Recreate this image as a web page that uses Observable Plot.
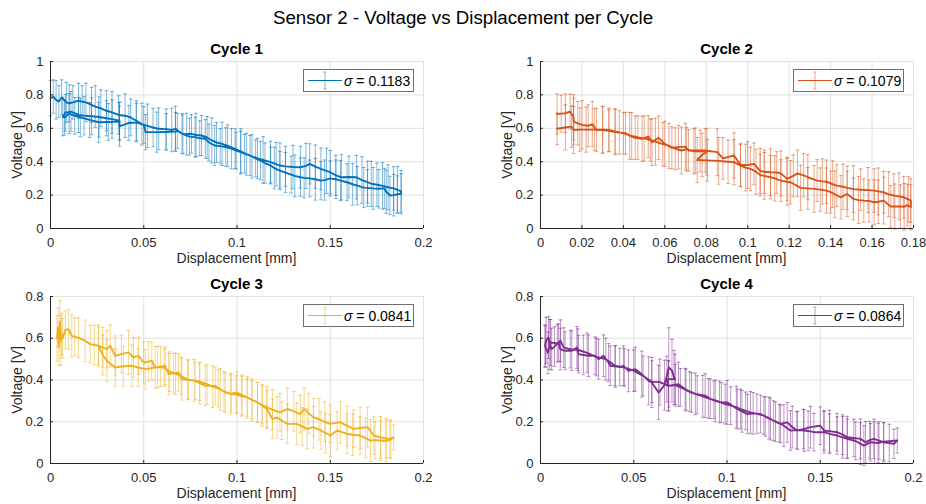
<!DOCTYPE html>
<html><head><meta charset="utf-8">
<script src="https://cdn.jsdelivr.net/npm/d3@7"></script>
<script src="https://cdn.jsdelivr.net/npm/@observablehq/plot@0.6"></script>
<style>
body{margin:0;background:#fff;}
#root{position:relative;width:926px;height:504px;font-family:"Liberation Sans",Arial,Helvetica,sans-serif;color:#262626;overflow:hidden;}
.abs{position:absolute;}
.maintitle{left:0;width:926px;top:8px;line-height:20px;text-align:center;font-size:18.7px;color:#000;}
.ptitle{font-weight:bold;font-size:15px;line-height:18px;height:18px;color:#000;text-align:center;width:200px;}
.xlabel{font-size:14px;line-height:18px;height:18px;text-align:center;width:200px;}
.ylabel{font-size:14px;line-height:18px;height:18px;width:120px;text-align:center;transform:rotate(-90deg);transform-origin:center;white-space:nowrap;}
.legend{background:#fff;border:1px solid #6e6e6e;box-sizing:border-box;display:flex;align-items:center;font-size:14px;color:#000;}
.legend svg{margin-left:3px;margin-right:1px;}
</style></head>
<body><div id="root"></div>
<script>
const mainTitle = "Sensor 2 - Voltage vs Displacement per Cycle";
const panelTitles = ["Cycle 1", "Cycle 2", "Cycle 3", "Cycle 4"];
const sigmaLabels = ["0.1183", "0.1079", "0.0841", "0.0864"];
const seriesColors = ["#0072BD", "#D95319", "#EDB120", "#7E2F8E"];
const xLabel = "Displacement [mm]";
const yLabel = "Voltage [V]";
const xTicks20 = [0, 0.05, 0.1, 0.15, 0.2];
const xTicks18 = [0, 0.02, 0.04, 0.06, 0.08, 0.1, 0.12, 0.14, 0.16, 0.18];
const yTicks10 = [0, 0.2, 0.4, 0.6, 0.8, 1];
const yTicks08 = [0, 0.2, 0.4, 0.6, 0.8];

// [displacement, voltage, error half-width]
const cycle1 = [
[0,0.78,0.105],[0.0015,0.79,0.10],[0.003,0.77,0.115],[0.0045,0.76,0.095],[0.006,0.785,0.105],[0.0085,0.755,0.12],[0.01,0.75,0.11],[0.012,0.755,0.10],[0.015,0.765,0.105],[0.017,0.76,0.095],[0.019,0.755,0.115],[0.022,0.74,0.105],[0.024,0.73,0.125],[0.027,0.72,0.11],[0.03,0.705,0.12],[0.033,0.695,0.125],[0.0365,0.68,0.115],[0.04,0.675,0.13],[0.043,0.665,0.11],[0.046,0.645,0.12],[0.049,0.625,0.125],[0.052,0.615,0.13],[0.055,0.605,0.115],[0.058,0.597,0.125],[0.062,0.595,0.12],[0.065,0.59,0.13],[0.067,0.597,0.135],[0.0705,0.567,0.12],[0.073,0.565,0.125],[0.0756,0.567,0.115],[0.078,0.56,0.13],[0.081,0.557,0.12],[0.084,0.545,0.125],[0.0865,0.527,0.135],[0.089,0.515,0.12],[0.092,0.507,0.13],[0.095,0.495,0.125],[0.099,0.477,0.12],[0.102,0.462,0.135],[0.105,0.445,0.125],[0.108,0.432,0.13],[0.111,0.42,0.12],[0.114,0.41,0.14],[0.118,0.397,0.125],[0.121,0.385,0.13],[0.123,0.377,0.135],[0.126,0.372,0.12],[0.13,0.368,0.13],[0.134,0.367,0.125],[0.137,0.375,0.135],[0.139,0.387,0.12],[0.142,0.37,0.13],[0.145,0.357,0.125],[0.148,0.345,0.135],[0.15,0.337,0.13],[0.153,0.318,0.12],[0.156,0.307,0.135],[0.16,0.308,0.125],[0.164,0.307,0.13],[0.167,0.29,0.14],[0.17,0.278,0.125],[0.172,0.268,0.135],[0.175,0.262,0.13],[0.178,0.255,0.14],[0.181,0.247,0.135],[0.184,0.24,0.13],[0.186,0.232,0.14],[0.188,0.222,0.125],
[0.188,0.208,0.12],[0.186,0.205,0.11],[0.184,0.2,0.125],[0.182,0.198,0.115],[0.18,0.22,0.13],[0.179,0.24,0.12],[0.176,0.238,0.115],[0.173,0.24,0.125],[0.17,0.243,0.11],[0.168,0.245,0.12],[0.1645,0.257,0.115],[0.162,0.265,0.125],[0.159,0.277,0.11],[0.1555,0.287,0.12],[0.153,0.295,0.115],[0.15,0.3,0.105],[0.147,0.29,0.12],[0.145,0.287,0.115],[0.142,0.295,0.125],[0.139,0.3,0.11],[0.136,0.303,0.12],[0.134,0.307,0.115],[0.131,0.315,0.125],[0.129,0.323,0.11],[0.126,0.335,0.12],[0.123,0.347,0.115],[0.12,0.362,0.125],[0.118,0.377,0.11],[0.115,0.392,0.12],[0.1126,0.407,0.115],[0.11,0.42,0.11],[0.107,0.437,0.12],[0.104,0.448,0.115],[0.102,0.457,0.125],[0.0995,0.467,0.11],[0.097,0.478,0.12],[0.094,0.488,0.115],[0.091,0.493,0.105],[0.088,0.497,0.12],[0.085,0.515,0.11],[0.083,0.537,0.115],[0.08,0.54,0.105],[0.0775,0.547,0.12],[0.0745,0.55,0.11],[0.071,0.565,0.115],[0.068,0.585,0.105],[0.067,0.58,0.115],[0.062,0.578,0.11],[0.057,0.577,0.12],[0.051,0.577,0.105],[0.05,0.62,0.11],[0.046,0.635,0.115],[0.042,0.632,0.105],[0.037,0.612,0.12],[0.037,0.645,0.11],[0.033,0.655,0.115],[0.03,0.66,0.105],[0.026,0.668,0.12],[0.022,0.672,0.11],[0.018,0.676,0.115],[0.015,0.68,0.105],[0.011,0.7,0.12],[0.008,0.693,0.11],[0.0066,0.67,0.115],[0.0075,0.665,0.105],[0.01,0.688,0.12],[0.013,0.675,0.11],[0.016,0.665,0.115],[0.021,0.65,0.105],[0.0258,0.636,0.12],[0.031,0.638,0.11],[0.037,0.64,0.115]
];

const cycle2 = [
[0.008,0.685,0.12],[0.01,0.688,0.11],[0.012,0.69,0.115],[0.0143,0.7,0.105],[0.0159,0.666,0.135],[0.016,0.64,0.14],[0.018,0.63,0.13],[0.02,0.62,0.145],[0.023,0.615,0.125],[0.025,0.625,0.135],[0.027,0.59,0.13],[0.03,0.59,0.14],[0.033,0.585,0.125],[0.036,0.577,0.135],[0.038,0.575,0.13],[0.041,0.571,0.125],[0.043,0.555,0.14],[0.0457,0.543,0.13],[0.049,0.537,0.135],[0.052,0.55,0.125],[0.0538,0.517,0.14],[0.057,0.543,0.13],[0.06,0.507,0.135],[0.0634,0.483,0.125],[0.0666,0.487,0.13],[0.0699,0.49,0.14],[0.0714,0.467,0.125],[0.0747,0.467,0.135],[0.0795,0.467,0.13],[0.0853,0.457,0.14],[0.088,0.42,0.125],[0.0934,0.437,0.135],[0.0965,0.38,0.13],[0.1,0.38,0.14],[0.103,0.387,0.125],[0.106,0.345,0.135],[0.108,0.34,0.13],[0.111,0.337,0.14],[0.114,0.335,0.125],[0.116,0.33,0.135],[0.119,0.297,0.13],[0.122,0.315,0.125],[0.124,0.33,0.14],[0.127,0.318,0.13],[0.129,0.307,0.135],[0.1335,0.287,0.125],[0.136,0.282,0.135],[0.138,0.28,0.13],[0.141,0.265,0.14],[0.143,0.257,0.125],[0.146,0.25,0.135],[0.148,0.243,0.13],[0.151,0.236,0.14],[0.1545,0.232,0.125],[0.158,0.23,0.135],[0.161,0.227,0.13],[0.163,0.222,0.14],[0.1656,0.217,0.125],[0.168,0.205,0.135],[0.1705,0.197,0.13],[0.173,0.192,0.14],[0.1753,0.187,0.125],[0.1775,0.175,0.135],[0.1787,0.167,0.13],
[0.1787,0.127,0.135],[0.177,0.14,0.125],[0.1755,0.13,0.14],[0.1737,0.132,0.13],[0.171,0.132,0.135],[0.169,0.132,0.125],[0.1656,0.167,0.14],[0.163,0.16,0.13],[0.161,0.157,0.135],[0.1585,0.165,0.125],[0.156,0.167,0.13],[0.1535,0.17,0.14],[0.151,0.177,0.125],[0.148,0.207,0.135],[0.145,0.187,0.13],[0.142,0.205,0.14],[0.14,0.218,0.125],[0.138,0.227,0.135],[0.135,0.233,0.13],[0.132,0.237,0.14],[0.129,0.24,0.125],[0.1255,0.243,0.135],[0.1207,0.277,0.13],[0.119,0.28,0.14],[0.116,0.287,0.125],[0.113,0.3,0.135],[0.111,0.307,0.13],[0.108,0.315,0.14],[0.106,0.32,0.125],[0.104,0.34,0.135],[0.1013,0.357,0.13],[0.099,0.365,0.14],[0.0965,0.377,0.125],[0.0934,0.397,0.135],[0.0905,0.4,0.13],[0.086,0.405,0.14],[0.0805,0.408,0.125],[0.0756,0.41,0.135],[0.078,0.44,0.13],[0.0803,0.46,0.14],[0.077,0.463,0.125],[0.074,0.462,0.135],[0.0705,0.475,0.13],[0.068,0.467,0.14],[0.065,0.478,0.125],[0.062,0.495,0.135],[0.059,0.505,0.13],[0.0555,0.52,0.14],[0.053,0.53,0.125],[0.05,0.54,0.135],[0.047,0.545,0.13],[0.044,0.555,0.14],[0.04,0.57,0.125],[0.036,0.582,0.135],[0.033,0.59,0.13],[0.03,0.592,0.14],[0.026,0.592,0.125],[0.022,0.592,0.135],[0.019,0.592,0.13],[0.016,0.59,0.14],[0.015,0.61,0.125],[0.012,0.605,0.135],[0.008,0.597,0.095]
];

const cycle3 = [
[0.0035,0.6,0.11],[0.004,0.65,0.095],[0.0045,0.56,0.09],[0.005,0.68,0.1],[0.0055,0.59,0.12],[0.006,0.62,0.1],[0.0065,0.6,0.095],[0.008,0.64,0.09],[0.0097,0.643,0.095],[0.0114,0.611,0.1],[0.013,0.608,0.09],[0.015,0.603,0.095],[0.0186,0.587,0.1],[0.0213,0.572,0.09],[0.0235,0.568,0.095],[0.0257,0.564,0.1],[0.028,0.556,0.095],[0.0302,0.548,0.09],[0.032,0.564,0.1],[0.0347,0.516,0.095],[0.038,0.524,0.09],[0.0418,0.532,0.105],[0.0445,0.508,0.095],[0.0472,0.516,0.09],[0.0499,0.484,0.1],[0.0525,0.488,0.095],[0.0543,0.492,0.09],[0.0561,0.46,0.1],[0.059,0.464,0.095],[0.0615,0.468,0.09],[0.0633,0.428,0.1],[0.066,0.432,0.095],[0.0686,0.436,0.09],[0.0704,0.404,0.1],[0.074,0.4,0.095],[0.0776,0.396,0.09],[0.08,0.385,0.1],[0.083,0.372,0.095],[0.0883,0.372,0.09],[0.091,0.355,0.1],[0.0937,0.34,0.095],[0.097,0.335,0.09],[0.1,0.34,0.1],[0.1027,0.328,0.095],[0.1055,0.317,0.09],[0.108,0.305,0.1],[0.111,0.293,0.095],[0.1135,0.28,0.09],[0.116,0.269,0.1],[0.119,0.258,0.095],[0.123,0.245,0.09],[0.127,0.261,0.1],[0.1305,0.25,0.095],[0.134,0.237,0.09],[0.136,0.261,0.1],[0.1385,0.24,0.095],[0.141,0.221,0.09],[0.144,0.212,0.1],[0.147,0.2,0.095],[0.15,0.19,0.09],[0.1555,0.197,0.1],[0.159,0.18,0.095],[0.1626,0.166,0.09],[0.166,0.17,0.1],[0.17,0.174,0.095],[0.1734,0.134,0.09],[0.177,0.125,0.1],[0.18,0.12,0.095],[0.182,0.118,0.09],[0.184,0.125,0.06],
[0.1825,0.115,0.09],[0.18,0.108,0.1],[0.177,0.11,0.095],[0.174,0.112,0.09],[0.1716,0.11,0.1],[0.169,0.122,0.095],[0.166,0.134,0.09],[0.162,0.138,0.1],[0.159,0.142,0.095],[0.1537,0.158,0.09],[0.15,0.134,0.1],[0.1475,0.146,0.095],[0.145,0.158,0.09],[0.141,0.174,0.1],[0.1376,0.166,0.095],[0.135,0.178,0.09],[0.132,0.19,0.1],[0.127,0.19,0.095],[0.124,0.205,0.09],[0.1215,0.221,0.1],[0.119,0.213,0.095],[0.116,0.261,0.09],[0.1135,0.278,0.1],[0.111,0.293,0.095],[0.108,0.305,0.09],[0.1055,0.317,0.1],[0.1025,0.322,0.095],[0.0995,0.33,0.09],[0.0965,0.333,0.1],[0.093,0.345,0.095],[0.09,0.36,0.09],[0.087,0.368,0.1],[0.084,0.38,0.095],[0.08,0.392,0.09],[0.077,0.398,0.1],[0.0735,0.402,0.095],[0.07,0.42,0.09],[0.067,0.43,0.1],[0.064,0.44,0.095],[0.061,0.46,0.09],[0.0575,0.462,0.1],[0.0508,0.452,0.095],[0.047,0.46,0.09],[0.0436,0.468,0.1],[0.039,0.466,0.095],[0.0347,0.46,0.09],[0.0302,0.492,0.1],[0.028,0.52,0.095],[0.0257,0.564,0.09]
];

const cycle4 = [
[0.0025,0.564,0.1],[0.003,0.59,0.11],[0.0043,0.603,0.1],[0.005,0.57,0.12],[0.006,0.548,0.1],[0.0075,0.56,0.095],[0.0097,0.58,0.09],[0.0106,0.548,0.1],[0.0132,0.54,0.09],[0.0168,0.54,0.095],[0.0195,0.556,0.1],[0.0204,0.524,0.09],[0.023,0.52,0.095],[0.0257,0.516,0.1],[0.0293,0.516,0.09],[0.0311,0.5,0.095],[0.0338,0.516,0.1],[0.0365,0.484,0.09],[0.0374,0.468,0.095],[0.0401,0.465,0.1],[0.0425,0.462,0.09],[0.0445,0.468,0.095],[0.0472,0.444,0.1],[0.0508,0.452,0.105],[0.0543,0.428,0.11],[0.058,0.396,0.115],[0.0597,0.388,0.12],[0.0633,0.34,0.13],[0.0665,0.375,0.12],[0.0688,0.46,0.19],[0.0705,0.445,0.15],[0.0716,0.412,0.13],[0.0722,0.404,0.12],[0.0677,0.404,0.11],[0.0686,0.372,0.12],[0.074,0.38,0.105],[0.0776,0.356,0.1],[0.08,0.345,0.095],[0.083,0.333,0.1],[0.0883,0.325,0.105],[0.091,0.31,0.095],[0.0937,0.3,0.1],[0.097,0.292,0.095],[0.1001,0.293,0.105],[0.1055,0.261,0.095],[0.108,0.25,0.1],[0.111,0.237,0.095],[0.114,0.24,0.1],[0.118,0.237,0.09],[0.1205,0.225,0.095],[0.1233,0.213,0.1],[0.126,0.2,0.095],[0.1287,0.19,0.09],[0.1323,0.197,0.095],[0.135,0.175,0.1],[0.1377,0.158,0.09],[0.141,0.165,0.095],[0.1448,0.174,0.1],[0.15,0.181,0.09],[0.152,0.158,0.095],[0.155,0.155,0.1],[0.159,0.15,0.09],[0.162,0.138,0.095],[0.1645,0.126,0.1],[0.168,0.122,0.09],[0.1716,0.118,0.095],[0.1743,0.102,0.1],[0.1765,0.112,0.09],[0.1788,0.118,0.095],[0.1815,0.11,0.09],[0.184,0.102,0.095],[0.187,0.098,0.09],[0.1895,0.094,0.07],[0.1913,0.11,0.06],
[0.184,0.105,0.09],[0.181,0.098,0.095],[0.179,0.1,0.1],[0.177,0.102,0.09],[0.1734,0.086,0.095],[0.1715,0.095,0.1],[0.169,0.108,0.09],[0.1645,0.118,0.095],[0.162,0.125,0.1],[0.159,0.134,0.09],[0.155,0.142,0.095],[0.152,0.15,0.1],[0.1466,0.15,0.09],[0.1435,0.156,0.095],[0.1413,0.158,0.1],[0.1375,0.16,0.09],[0.134,0.158,0.095],[0.1305,0.181,0.1],[0.128,0.193,0.09],[0.125,0.205,0.095],[0.1225,0.218,0.1],[0.1198,0.229,0.09],[0.116,0.238,0.095],[0.1126,0.245,0.1],[0.11,0.252,0.09],[0.1073,0.261,0.095],[0.105,0.27,0.1],[0.102,0.277,0.09],[0.099,0.285,0.095],[0.096,0.295,0.1],[0.093,0.305,0.09],[0.09,0.312,0.095],[0.087,0.322,0.1],[0.084,0.33,0.09],[0.081,0.34,0.095],[0.078,0.352,0.1],[0.075,0.365,0.09],[0.0722,0.375,0.1],[0.0686,0.372,0.12],[0.064,0.39,0.11],[0.0597,0.392,0.1],[0.055,0.42,0.095],[0.05,0.445,0.1],[0.045,0.46,0.09],[0.04,0.468,0.095],[0.035,0.5,0.1],[0.03,0.51,0.09],[0.025,0.53,0.095],[0.02,0.545,0.1],[0.016,0.548,0.09],[0.0125,0.555,0.095],[0.0107,0.588,0.1],[0.009,0.575,0.09],[0.0054,0.58,0.11],[0.004,0.53,0.1],[0.0025,0.56,0.1]
];

const root = document.getElementById("root");
function addDiv(cls, text, left, top) {
  const d = document.createElement("div");
  d.className = "abs " + cls;
  d.textContent = text;
  if (left != null) d.style.left = left + "px";
  d.style.top = top + "px";
  root.appendChild(d);
  return d;
}
addDiv("maintitle", mainTitle, null, 8);

const capSymbol = {draw(ctx) { ctx.moveTo(-1.8, 0); ctx.lineTo(1.8, 0); }};
const fmt = d3.format("~g");

const panels = [
  {data: cycle1, xDomain: [0, 0.2], xTicks: xTicks20, yDomain: [0, 1], yTicks: yTicks10, left: 0, top: 40, width: 463, mr: 40},
  {data: cycle2, xDomain: [0, 0.18], xTicks: xTicks18, yDomain: [0, 1], yTicks: yTicks10, left: 490, top: 40, width: 436, mr: 13},
  {data: cycle3, xDomain: [0, 0.2], xTicks: xTicks20, yDomain: [0, 0.8], yTicks: yTicks08, left: 0, top: 275, width: 463, mr: 40},
  {data: cycle4, xDomain: [0, 0.2], xTicks: xTicks20, yDomain: [0, 0.8], yTicks: yTicks08, left: 490, top: 275, width: 436, mr: 13}
];

panels.forEach((p, i) => {
  const color = seriesColors[i];
  const ml = 50, mt = 21, mb = 42, H = 230;
  const chart = Plot.plot({
    width: p.width, height: H,
    marginLeft: ml, marginRight: p.mr, marginTop: mt, marginBottom: mb,
    x: {domain: p.xDomain},
    y: {domain: p.yDomain},
    style: {fontFamily: "'Liberation Sans', Arial, Helvetica, sans-serif", fontSize: "13px", color: "#262626", background: "transparent", overflow: "visible"},
    marks: [
      Plot.gridX(p.xTicks, {stroke: "#e1e1e1", strokeOpacity: 1}),
      Plot.gridY(p.yTicks, {stroke: "#e1e1e1", strokeOpacity: 1}),
      Plot.ruleX(p.data, {x: d => d[0], y1: d => d[1] - d[2], y2: d => d[1] + d[2], stroke: color, strokeOpacity: 0.5, strokeWidth: 1}),
      Plot.dot(p.data, {x: d => d[0], y: d => d[1] - d[2], symbol: capSymbol, r: 2, fill: "none", stroke: color, strokeOpacity: 0.55, strokeWidth: 1}),
      Plot.dot(p.data, {x: d => d[0], y: d => d[1] + d[2], symbol: capSymbol, r: 2, fill: "none", stroke: color, strokeOpacity: 0.55, strokeWidth: 1}),
      Plot.line(p.data, {x: d => d[0], y: d => d[1], stroke: color, strokeWidth: 1.9, strokeLinejoin: "round"}),
      Plot.ruleX([p.xDomain[0]], {stroke: "#262626", strokeWidth: 1}),
      Plot.ruleY([p.yDomain[0]], {stroke: "#262626", strokeWidth: 1}),
      Plot.axisX(p.xTicks, {tickSize: 0, tickPadding: 9, tickFormat: fmt, label: null, fill: "#262626"}),
      Plot.axisX(p.xTicks, {tickSize: -3, fill: "none", label: null, stroke: "#262626"}),
      Plot.axisY(p.yTicks, {tickSize: 0, tickPadding: 7, tickFormat: fmt, label: null, fill: "#262626"}),
      Plot.axisY(p.yTicks, {tickSize: -3, fill: "none", label: null, stroke: "#262626"})
    ]
  });
  chart.style.position = "absolute";
  chart.style.left = p.left + "px";
  chart.style.top = p.top + "px";
  root.appendChild(chart);

  const fx0 = p.left + ml, fx1 = p.left + p.width - p.mr;
  const fy0 = p.top + mt, fy1 = p.top + H - mb;
  const cx = (fx0 + fx1) / 2;
  addDiv("ptitle", panelTitles[i], cx - 100, p.top);
  addDiv("xlabel", xLabel, cx - 100, fy1 + 21);
  addDiv("ylabel", yLabel, p.left + 17 - 60, (fy0 + fy1) / 2 - 9);

  const lg = document.createElement("div");
  lg.className = "abs legend";
  lg.style.left = (fx1 - 120) + "px";
  lg.style.top = (fy0 + 8) + "px";
  lg.style.width = "111px";
  lg.style.height = "23px";
  const ns = "http://www.w3.org/2000/svg";
  const svg = document.createElementNS(ns, "svg");
  svg.setAttribute("width", "36"); svg.setAttribute("height", "21");
  svg.innerHTML =
    `<line x1="1" x2="35" y1="10.5" y2="10.5" stroke="${color}" stroke-width="1"/>` +
    `<line x1="18" x2="18" y1="2" y2="19" stroke="${color}" stroke-opacity="0.5" stroke-width="1"/>` +
    `<line x1="16.5" x2="19.5" y1="2" y2="2" stroke="${color}" stroke-opacity="0.5" stroke-width="1"/>` +
    `<line x1="16.5" x2="19.5" y1="19" y2="19" stroke="${color}" stroke-opacity="0.5" stroke-width="1"/>`;
  lg.appendChild(svg);
  const t = document.createElement("span");
  t.innerHTML = `<i>σ</i> = ${sigmaLabels[i]}`;
  lg.appendChild(t);
  root.appendChild(lg);
});
</script>
</body></html>
